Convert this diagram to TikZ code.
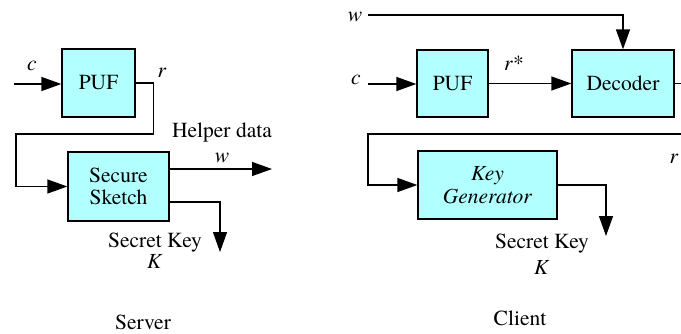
\documentclass[tikz,border=0pt]{standalone}
\usepackage{fontspec}
\setmainfont{texgyretermes}[Extension=.otf, UprightFont=*-regular, ItalicFont=*-italic, BoldFont=*-bold]
\usetikzlibrary{arrows.meta, positioning}

\definecolor{boxcyan}{RGB}{178,255,255}

\begin{document}
\begin{tikzpicture}[
  x=1pt, y=-1pt,
  every node/.style={font=\rmfamily\fontsize{21.5}{24}\selectfont},
  block/.style={draw, fill=boxcyan, line width=1.3pt, inner sep=0pt, align=center},
  line width=1.3pt,
  >={Triangle[length=20pt,width=14pt]}
]
  \useasboundingbox (0,0) rectangle (681,333);

  % Server side
  \node (PUFs) [block, minimum width=73pt, minimum height=68pt] at (98.5,83) {PUF};
  \node (SKs) [block, minimum width=101pt, minimum height=69pt] at (118.5,186.5) {Secure\\[-2pt]Sketch};

  \coordinate (cS) at (14,84);
  \coordinate (wS) at (272,169);
  \coordinate (KS) at (220,252);

  \node (cSlab) at (32,66) {\textit{c}};
  \node (rSlab) at (162,73) {\textit{r}};
  \node (helper) at (222,132) {Helper data};
  \node (wSlab) at (222,158) {\textit{w}};
  \node (keyS) at (155,243) {Secret Key};
  \node (KSlab) at (155,261) {\textit{K}};
  \node (server) at (143,322) {Server};

  % Edges (server)
  \draw [->] (cS) -- (cS -| PUFs.west);
  \draw [->] (PUFs.east) -- ++(18,0) |- (16,134) |- (SKs.west);
  \draw [->] ([yshift=17.5pt]SKs.east) -- (wS);
  \draw [->] ([yshift=-15.5pt]SKs.east) -| (KS);

  % Client side
  \node (PUFc) [block, minimum width=71pt, minimum height=67pt] at (452.5,83.5) {PUF};
  \node (Dec) [block, minimum width=102pt, minimum height=67pt] at (623,83.5) {Decoder};
  \node (KG) [block, minimum width=139pt, minimum height=68pt] at (487.5,185) {\textit{Key}\\[-1pt]\textit{Generator}};

  \coordinate (wC) at (368,15);
  \coordinate (cC) at (368,84);
  \coordinate (KC) at (606,236);

  \node (wClab) at (355,17) {\textit{w}};
  \node (cClab) at (356,80) {\textit{c}};
  \node (rstar) at (514,63) {\textit{r}*};
  \node (rClab) at (674,159) {\textit{r}};
  \node (keyC) at (542,244) {Secret Key};
  \node (KClab) at (542,267) {\textit{K}};
  \node (client) at (520,318) {Client};

  % Edges (client)
  \draw [->] (wC) -| (Dec.north);
  \draw [->] (cC) -- (cC -| PUFc.west);
  \draw [->] (PUFc.east) -- (Dec.west);
  \draw [->] (Dec.east) -- ++(20,0) |- (368,134) |- (KG.west);
  \draw [->] (KG.east) -| (KC);
\end{tikzpicture}
\end{document}
